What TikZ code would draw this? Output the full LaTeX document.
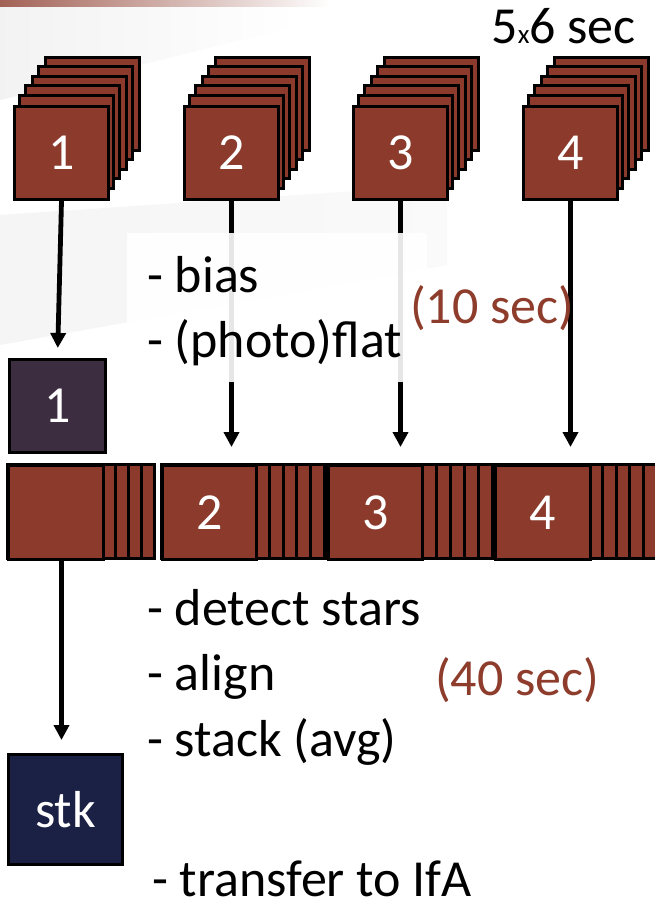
\documentclass[tikz,border=0pt]{standalone}
\usepackage{fontspec}
\setmainfont{Carlito}
\usetikzlibrary{arrows.meta}
\definecolor{frame}{RGB}{139,58,43}
\definecolor{rawbox}{RGB}{60,45,64}
\definecolor{stkbox}{RGB}{27,33,68}
\definecolor{timecol}{RGB}{142,60,44}
\newcommand\bigtxt{\fontsize{52}{62}\selectfont}
\newcommand\smalltxt{\fontsize{27}{30}\selectfont}

\begin{document}
\begin{tikzpicture}[x=1pt,y=-1pt,
  edge/.style={line width=3pt},
  frm/.style={draw=black, edge, fill=frame, inner sep=0pt, anchor=north west,
    text=white, font=\bigtxt},
  layer/.style={draw=black, edge, fill=frame},
  arr/.style={-{Triangle[length=15pt,width=15pt]}, line width=4.8pt},
  lbl/.style={inner sep=0pt, anchor=base west, font=\bigtxt},
  tim/.style={lbl, text=timecol}]

% page area
\useasboundingbox (0,0) rectangle (654,911);
\fill[white] (0,0) rectangle (654,911);

% faint slide background swooshes
\shade[left color=frame!80, right color=white] (0,0) rectangle (330,6);
\shade[left color=black!5, right color=white] (0,7) -- (300,7) -- (300,25) -- (0,100) -- cycle;
\shade[left color=black!4, right color=black!2] (0,215) -- (447,185) -- (447,265) -- (0,345) -- cycle;

% raw exposures: four stacks of five frames
\foreach \k/\x in {1/13, 2/183, 3/352, 4/522}{
  \foreach \i in {5,4,3,2,1}
    \draw[layer] (\x+6.46*\i, 105-9.6*\i) rectangle ++(94,93);
  \node[frm, minimum width=94pt, minimum height=93pt] (s\k) at (\x,105) {\k};
}
\node[lbl, anchor=base east] (exp) at (636,43) {5{\smalltxt x}6 sec};

% calibrated first frame
\node[frm, fill=rawbox, minimum width=96pt, minimum height=93pt] (r1) at (8,358) {1};

% calibrated frames in a row
\foreach \k/\x/\w/\n in {1/7/13/4, 2/161/13.6/5, 3/327/14/5, 4/494/13.6/5}{
  \draw[layer] (\x,464) rectangle (\x+95+\n*\w,558);
  \foreach \j in {1,...,\n}
    \draw[edge] (\x+95+\j*\w,464) -- (\x+95+\j*\w,558);
}
\node[frm, minimum width=95pt, minimum height=94pt] (b1) at (7,464) {};
\node[frm, minimum width=94pt, minimum height=94pt] (b2) at (161,464) {2};
\node[frm, minimum width=94pt, minimum height=94pt] (b3) at (327,464) {3};
\node[frm, minimum width=95pt, minimum height=94pt] (b4) at (494,464) {4};

% stacked result
\node[frm, fill=stkbox, minimum width=114pt, minimum height=110pt] (stk) at (7,753) {stk};

% connectors
\draw[arr, shorten >=10pt] (s1.south) -- (r1.north);
\draw[arr, shorten >=17pt] (s2.south) -- (s2.south |- b2.north);
\draw[arr, shorten >=17pt] (s3.south) -- (s3.south |- b3.north);
\draw[arr, shorten >=17pt] (s4.south) -- (s4.south |- b4.north);
\draw[arr, shorten >=13pt] (b1.south -| s1.south) -- (stk.north -| s1.south);

% translucent panel behind the calibration steps
\fill[white, opacity=0.9] (127,233) rectangle (427,382);

% processing steps
\node[lbl] (t1) at (147,292) {- bias};
\node[lbl] (t2) at (147,357) {- (photo)flat};
\node[tim] (t3) at (410,323) {(10 sec)};
\node[lbl] (t4) at (147,625) {- detect stars};
\node[lbl] (t5) at (147,690) {- align};
\node[lbl] (t6) at (147,756) {- stack (avg)};
\node[tim] (t7) at (435,695) {(40 sec)};
\node[lbl] (t8) at (152,896) {- transfer to IfA};
\end{tikzpicture}
\end{document}
